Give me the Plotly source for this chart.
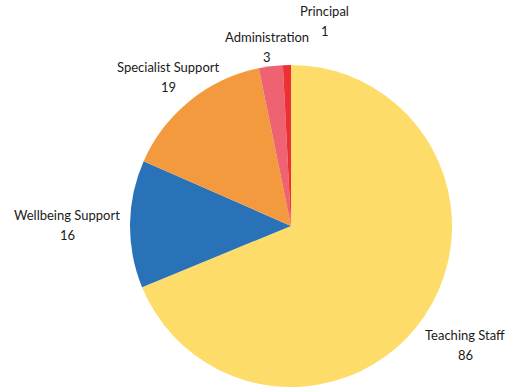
import math
import plotly.graph_objects as go

# Staff headcount by role
roles = ["Teaching Staff", "Wellbeing Support", "Specialist Support", "Administration", "Principal"]
counts = [86, 16, 19, 3, 1]
colors = ["#FDDC69", "#2A72B8", "#F39A3E", "#EE6271", "#EE2F36"]

# Label placement: distance from centre (in radii) and a small angular nudge (degrees)
label_dist = [1.31, 1.39, 1.20, 1.12, 1.29]
label_nudge = [0.5, -0.4, -0.6, -0.4, 10.8]
LINE_GAP = 20  # px between the name line and the value line

W, H = 517, 392
ML, MR, MT, MB = 130, 65, 65, 5
pw, ph = W - ML - MR, H - MT - MB
cx, cy = ML + pw / 2, MT + ph / 2
radius = min(pw, ph) / 2

fig = go.Figure(
    go.Pie(
        labels=roles,
        values=counts,
        sort=False,
        direction="clockwise",
        rotation=0,
        marker=dict(colors=colors, line=dict(width=0)),
        textinfo="none",
        showlegend=False,
        hoverinfo="label+value",
    )
)

label_font = dict(family="Lato, sans-serif", size=13, color="#1a1a1a")


def to_paper(px, py):
    return (px - ML) / pw, 1 - (py - MT) / ph


# Centred two-line labels placed along each slice's mid-angle
total = sum(counts)
start = 0.0
annotations = []
for name, val, dist, nudge in zip(roles, counts, label_dist, label_nudge):
    span = 360.0 * val / total
    mid = math.radians(start + span / 2 + nudge)
    start += span
    px = cx + dist * radius * math.sin(mid)
    py = cy - dist * radius * math.cos(mid)
    for text, dy in ((name, -LINE_GAP / 2), (str(val), LINE_GAP / 2)):
        x, y = to_paper(px, py + dy)
        annotations.append(
            dict(
                x=x,
                y=y,
                xref="paper",
                yref="paper",
                text=text,
                showarrow=False,
                xanchor="center",
                yanchor="middle",
                font=label_font,
            )
        )

fig.update_layout(
    width=W,
    height=H,
    margin=dict(l=ML, r=MR, t=MT, b=MB),
    paper_bgcolor="white",
    plot_bgcolor="white",
    annotations=annotations,
)

fig.write_html("out.html")
